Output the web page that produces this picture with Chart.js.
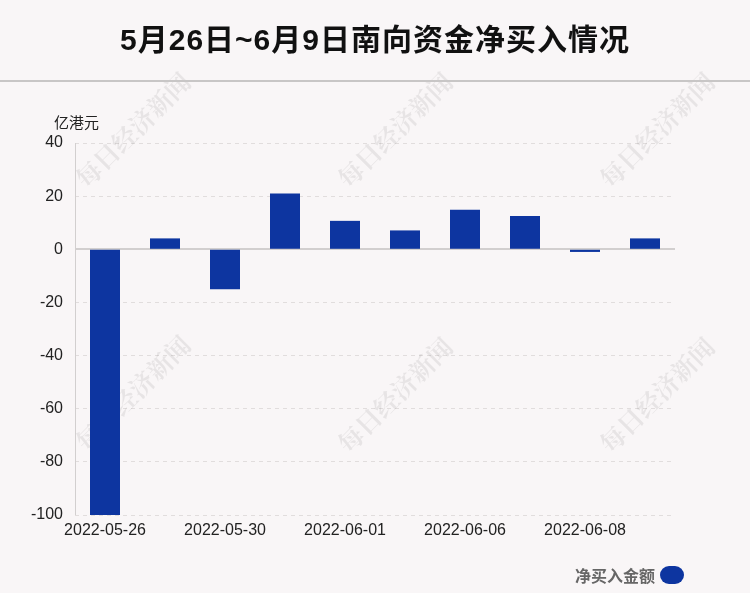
<!DOCTYPE html>
<html><head><meta charset="utf-8">
<script src="https://cdn.jsdelivr.net/npm/chart.js@4.4.0/dist/chart.umd.min.js"></script>
<style>
html,body{margin:0;padding:0;background:#f9f6f7;width:750px;height:593px;overflow:hidden;font-family:"Liberation Sans","Noto Sans CJK SC",sans-serif;}
#wrap{position:absolute;left:0;top:0;width:750px;height:593px;}
#title{position:absolute;left:0;top:0;width:750px;height:80px;border-bottom:2px solid #c8c6c6;text-align:center;line-height:80px;font-size:30px;font-weight:bold;color:#111;letter-spacing:1px;z-index:2;}
#unit{position:absolute;left:54px;top:111px;font-size:15px;color:#222;z-index:2;}
#legend{position:absolute;right:66px;top:563px;font-size:16px;font-weight:bold;color:#666;z-index:2;display:flex;align-items:center;}
#legend span.box{display:inline-block;width:24px;height:18px;border-radius:9px;background:#0d35a0;margin-left:5px;}
</style></head>
<body>
<div id="wrap"><canvas id="c" width="750" height="593"></canvas></div>
<div id="title">5月26日~6月9日南向资金净买入情况</div>
<div id="unit">亿港元</div>
<div id="legend"><span>净买入金额</span><span class="box"></span></div>
<script>
const dates = ["2022-05-26","2022-05-27","2022-05-30","2022-05-31","2022-06-01","2022-06-02","2022-06-06","2022-06-07","2022-06-08","2022-06-09"];
const netBuy = [-100, 4.1, -15, 21, 10.7, 7.1, 14.9, 12.5, -1.0, 4.1];
const yTicks = [40, 20, 0, -20, -40, -60, -80, -100];
const seriesName = "净买入金额";
const watermark = "每日经济新闻";

const wmPlugin = {
  id: 'wm',
  beforeDatasetsDraw(chart) {
    const ctx = chart.ctx;
    const pos = [[133,130],[395,130],[657,130],[133,393],[395,395],[657,395]];
    ctx.save();
    ctx.fillStyle = 'rgba(0,0,0,0.07)';
    ctx.font = 'bold 25px "Noto Serif CJK SC","DejaVu Serif","Noto Sans CJK SC",serif';
    ctx.textAlign = 'center';
    ctx.textBaseline = 'middle';
    pos.forEach(p => {
      ctx.save();
      ctx.translate(p[0], p[1]);
      ctx.rotate(-Math.PI/4);
      ctx.fillText(watermark, 0, 0);
      ctx.restore();
    });
    // solid axis lines
    const a = chart.chartArea, y = chart.scales.y;
    ctx.setLineDash([]);
    ctx.strokeStyle = '#d2cfcf';
    ctx.lineWidth = 1;
    ctx.beginPath(); ctx.moveTo(a.left + 0.5, a.top); ctx.lineTo(a.left + 0.5, a.bottom); ctx.stroke();
    const y0 = Math.round(y.getPixelForValue(0));
    ctx.lineWidth = 2;
    ctx.beginPath(); ctx.moveTo(a.left, y0); ctx.lineTo(a.right, y0); ctx.stroke();
    ctx.restore();
  }
};

new Chart(document.getElementById('c'), {
  type: 'bar',
  data: {
    labels: dates,
    datasets: [{
      label: seriesName,
      data: netBuy,
      backgroundColor: '#0d35a0',
      borderWidth: 0,
      barPercentage: 0.5,
      categoryPercentage: 1.0
    }]
  },
  options: {
    responsive: false,
    animation: false,
    devicePixelRatio: 1,
    layout: { padding: { top: 143, right: 75, bottom: 0, left: 0 } },
    plugins: { legend: { display: false }, tooltip: { enabled: false } },
    scales: {
      x: {
        grid: { display: false, drawTicks: false },
        border: { display: false },
        ticks: {
          autoSkip: false, maxRotation: 0, padding: 6,
          color: '#222', font: { size: 16, family: '"Liberation Sans", Arial, sans-serif' },
          callback: function(v, i) { return i % 2 === 0 ? this.getLabelForValue(v) : ''; }
        },
        afterFit: (s) => { s.height = 78; }
      },
      y: {
        min: -100, max: 40,
        afterBuildTicks: (s) => { s.ticks = yTicks.map(v => ({ value: v })); },
        grid: {
          drawTicks: false,
          color: (c) => c.tick && c.tick.value === 0 ? 'rgba(0,0,0,0)' : '#e1dddd',
          lineWidth: 1
        },
        border: { display: false, dash: [4, 4] },
        ticks: {
          padding: 12, color: '#222',
          font: { size: 16, family: '"Liberation Sans", Arial, sans-serif' }
        },
        afterFit: (s) => { s.width = 75; }
      }
    }
  },
  plugins: [wmPlugin]
});
</script>
</body></html>
